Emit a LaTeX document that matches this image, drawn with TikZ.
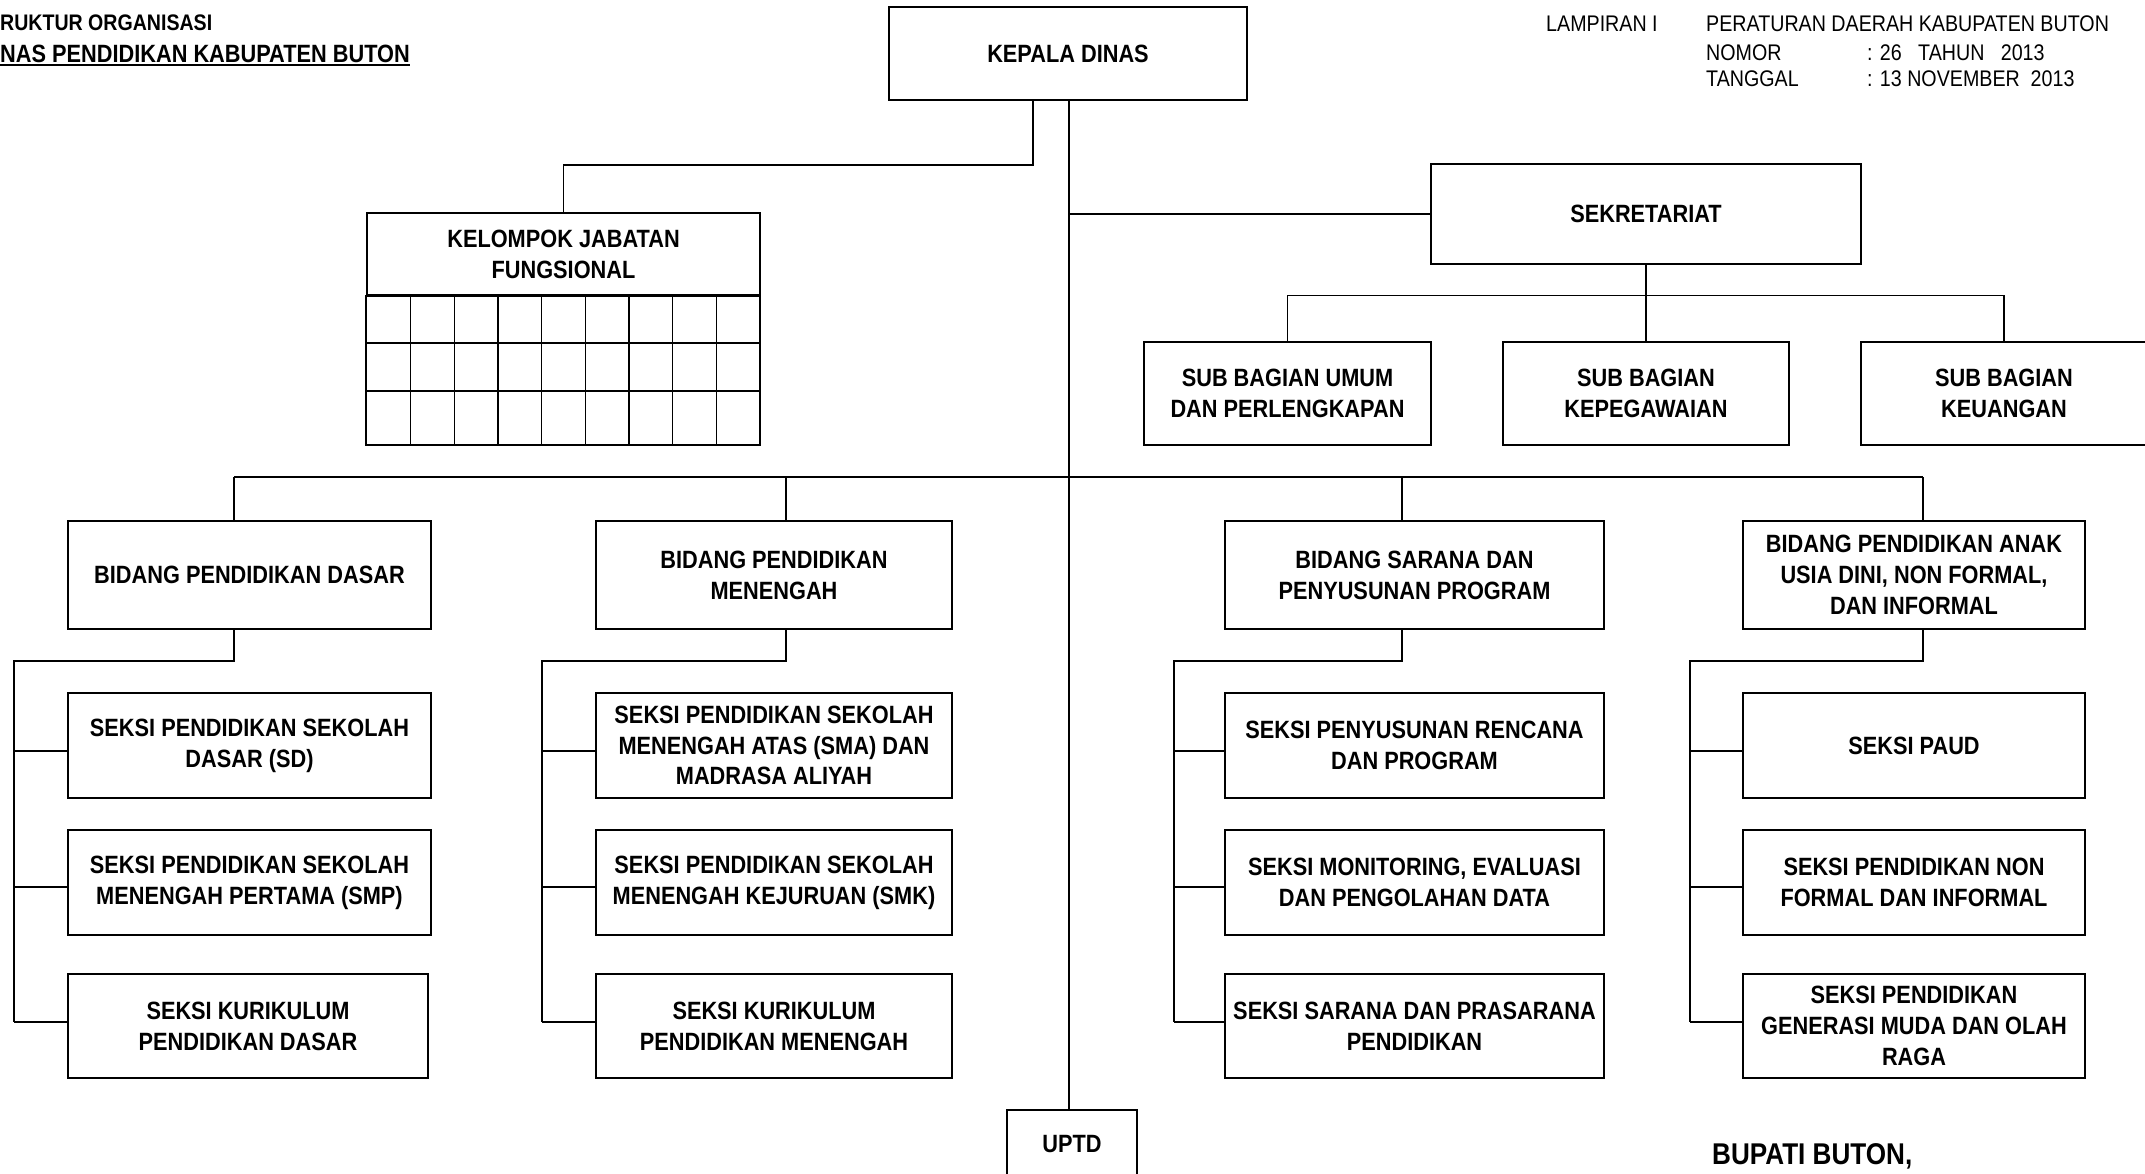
\documentclass[tikz,border=0pt]{standalone}
\usepackage{fontspec}
\setmainfont{Liberation Sans}[FakeStretch=0.87]
\newcommand\boxfont{\fontsize{25}{30.8}\selectfont\bfseries}
\newcommand\hdrfont{\fontsize{22.6}{26}\selectfont}
\newcommand\ttlA{\fontsize{22.5}{26}\selectfont\bfseries}
\newcommand\ttlB{\fontsize{25}{30}\selectfont\bfseries}
\newcommand\bupfont{\fontsize{30}{34}\selectfont\bfseries}
\begin{document}
\begin{tikzpicture}[x=1pt,y=-1pt,
  box/.style={draw, line width=1.7pt, inner sep=0pt, align=center, font=\boxfont},
  conn/.style={line width=1.4pt},
  txt/.style={inner sep=0pt, anchor=base west}]
\fill[white] (0,0) rectangle (2145,1173);
\useasboundingbox (0,0) rectangle (2145,1173);

% header texts
\node[txt, font=\ttlA] (t1) at (0,30) {RUKTUR ORGANISASI};
\node[txt, font=\ttlB] (t2) at (0,62) {NAS PENDIDIKAN KABUPATEN BUTON};
\draw[line width=1.6pt] (t2.base west |- 0,65) -- (t2.base east |- 0,65);
\node[txt, font=\hdrfont] (lamp) at (1546,31) {LAMPIRAN I};
\node[txt, font=\hdrfont] (per) at (1706,31) {PERATURAN DAERAH KABUPATEN BUTON};
\node[txt, font=\hdrfont] (nom) at (1706,60) {NOMOR};
\node[txt, font=\hdrfont] (nomv) at (1867,60) {: 26\ \ \ TAHUN\ \ \ 2013};
\node[txt, font=\hdrfont] (tgl) at (1706,86) {TANGGAL};
\node[txt, font=\hdrfont] (tglv) at (1867,86) {: 13 NOVEMBER\ \ 2013};

% top level
\node[box, minimum width=358, minimum height=93] (kd) at (1068,53.5) {KEPALA DINAS};
\node[box, minimum width=393, minimum height=82] (kjf) at (563.5,254) {KELOMPOK JABATAN\\FUNGSIONAL};
\draw[line width=1.7pt] (kjf.south west) rectangle (760,445);
\foreach \yy in {343,391} \draw[line width=1.5pt] (367,\yy) -- (760,\yy);
\foreach \k in {1,...,8} \draw[line width=1.3pt] ({367+\k*43.667},295) -- ({367+\k*43.667},445);

\node[box, minimum width=430, minimum height=100] (sek) at (1646,214) {SEKRETARIAT};
\node[box, minimum width=287, minimum height=103] (sb1) at (1287.5,393.5) {SUB BAGIAN UMUM\\DAN PERLENGKAPAN};
\node[box, minimum width=286, minimum height=103] (sb2) at (1646,393.5) {SUB BAGIAN\\KEPEGAWAIAN};
\node[box, minimum width=286, minimum height=103] (sb3) at (2004,393.5) {SUB BAGIAN\\KEUANGAN};

% bidang
\node[box, minimum width=363, minimum height=108] (bpd) at (249.5,575) {BIDANG PENDIDIKAN DASAR};
\node[box, minimum width=356, minimum height=108] (bpm) at (774,575) {BIDANG PENDIDIKAN\\MENENGAH};
\node[box, minimum width=379, minimum height=108] (bsp) at (1414.5,575) {BIDANG SARANA DAN\\PENYUSUNAN PROGRAM};
\node[box, minimum width=342, minimum height=108] (bpa) at (1914,575) {BIDANG PENDIDIKAN ANAK\\USIA DINI, NON FORMAL,\\DAN INFORMAL};

% seksi column A
\node[box, minimum width=363, minimum height=105] (a1) at (249.5,745.5) {SEKSI PENDIDIKAN SEKOLAH\\DASAR (SD)};
\node[box, minimum width=363, minimum height=105] (a2) at (249.5,882.5) {SEKSI PENDIDIKAN SEKOLAH\\MENENGAH PERTAMA (SMP)};
\node[box, minimum width=360, minimum height=104] (a3) at (248,1026) {SEKSI KURIKULUM\\PENDIDIKAN DASAR};
% column B
\node[box, minimum width=356, minimum height=105] (b1) at (774,745.5) {SEKSI PENDIDIKAN SEKOLAH\\MENENGAH ATAS (SMA) DAN\\MADRASA ALIYAH};
\node[box, minimum width=356, minimum height=105] (b2) at (774,882.5) {SEKSI PENDIDIKAN SEKOLAH\\MENENGAH KEJURUAN (SMK)};
\node[box, minimum width=356, minimum height=104] (b3) at (774,1026) {SEKSI KURIKULUM\\PENDIDIKAN MENENGAH};
% column C
\node[box, minimum width=379, minimum height=105] (c1) at (1414.5,745.5) {SEKSI PENYUSUNAN RENCANA\\DAN PROGRAM};
\node[box, minimum width=379, minimum height=105] (c2) at (1414.5,882.5) {SEKSI MONITORING, EVALUASI\\DAN PENGOLAHAN DATA};
\node[box, minimum width=379, minimum height=104] (c3) at (1414.5,1026) {SEKSI SARANA DAN PRASARANA\\PENDIDIKAN};
% column D
\node[box, minimum width=342, minimum height=105] (d1) at (1914,745.5) {SEKSI PAUD};
\node[box, minimum width=342, minimum height=105] (d2) at (1914,882.5) {SEKSI PENDIDIKAN NON\\FORMAL DAN INFORMAL};
\node[box, minimum width=342, minimum height=104] (d3) at (1914,1026) {SEKSI PENDIDIKAN\\GENERASI MUDA DAN OLAH\\RAGA};

\node[box, minimum width=130, minimum height=68] (uptd) at (1072,1144) {UPTD};
\node[txt, font=\bupfont] (bup) at (1712,1164) {BUPATI BUTON,};

% connectors
\coordinate (t0) at (1069,100);
\draw[conn] (t0) -- (t0 |- uptd.north);
\draw[conn] ([xshift=-35pt]kd.south) -- ++(0,64) -| (kjf.north);
\draw[conn] (sek.west -| t0) -- (sek.west);
\coordinate (sbus) at (1646,295.5);
\draw[conn] (sek.south) -- (sb2.north);
\draw[conn] (sb1.north) -- (sb1.north |- sbus) -- (sb3.north |- sbus) -- (sb3.north);

\coordinate (dA) at (234,477);
\coordinate (dB) at (786,477);
\coordinate (dC) at (1402,477);
\coordinate (dD) at (1923,477);
\draw[conn] (dA) -- (dD);
\draw[conn] (dA) -- (dA |- bpd.north);
\draw[conn] (dB) -- (dB |- bpm.north);
\draw[conn] (dC) -- (dC |- bsp.north);
\draw[conn] (dD) -- (dD |- bpa.north);

\coordinate (sA) at (14,1022);
\coordinate (sB) at (542,1022);
\coordinate (sC) at (1174,1022);
\coordinate (sD) at (1690,1022);
\draw[conn] (dA |- bpd.south) -- (234,661) -| (sA);
\draw[conn] (dB |- bpm.south) -- (786,661) -| (sB);
\draw[conn] (dC |- bsp.south) -- (1402,661) -| (sC);
\draw[conn] (dD |- bpa.south) -- (1923,661) -| (sD);

\foreach \s/\p/\q/\r in {sA/a1/a2/a3, sB/b1/b2/b3, sC/c1/c2/c3, sD/d1/d2/d3}{
  \draw[conn] (\s |- 0,751) -- (\p.west |- 0,751);
  \draw[conn] (\s |- 0,887) -- (\q.west |- 0,887);
  \draw[conn] (\s) -- (\r.west |- \s);
}
\end{tikzpicture}
\end{document}
